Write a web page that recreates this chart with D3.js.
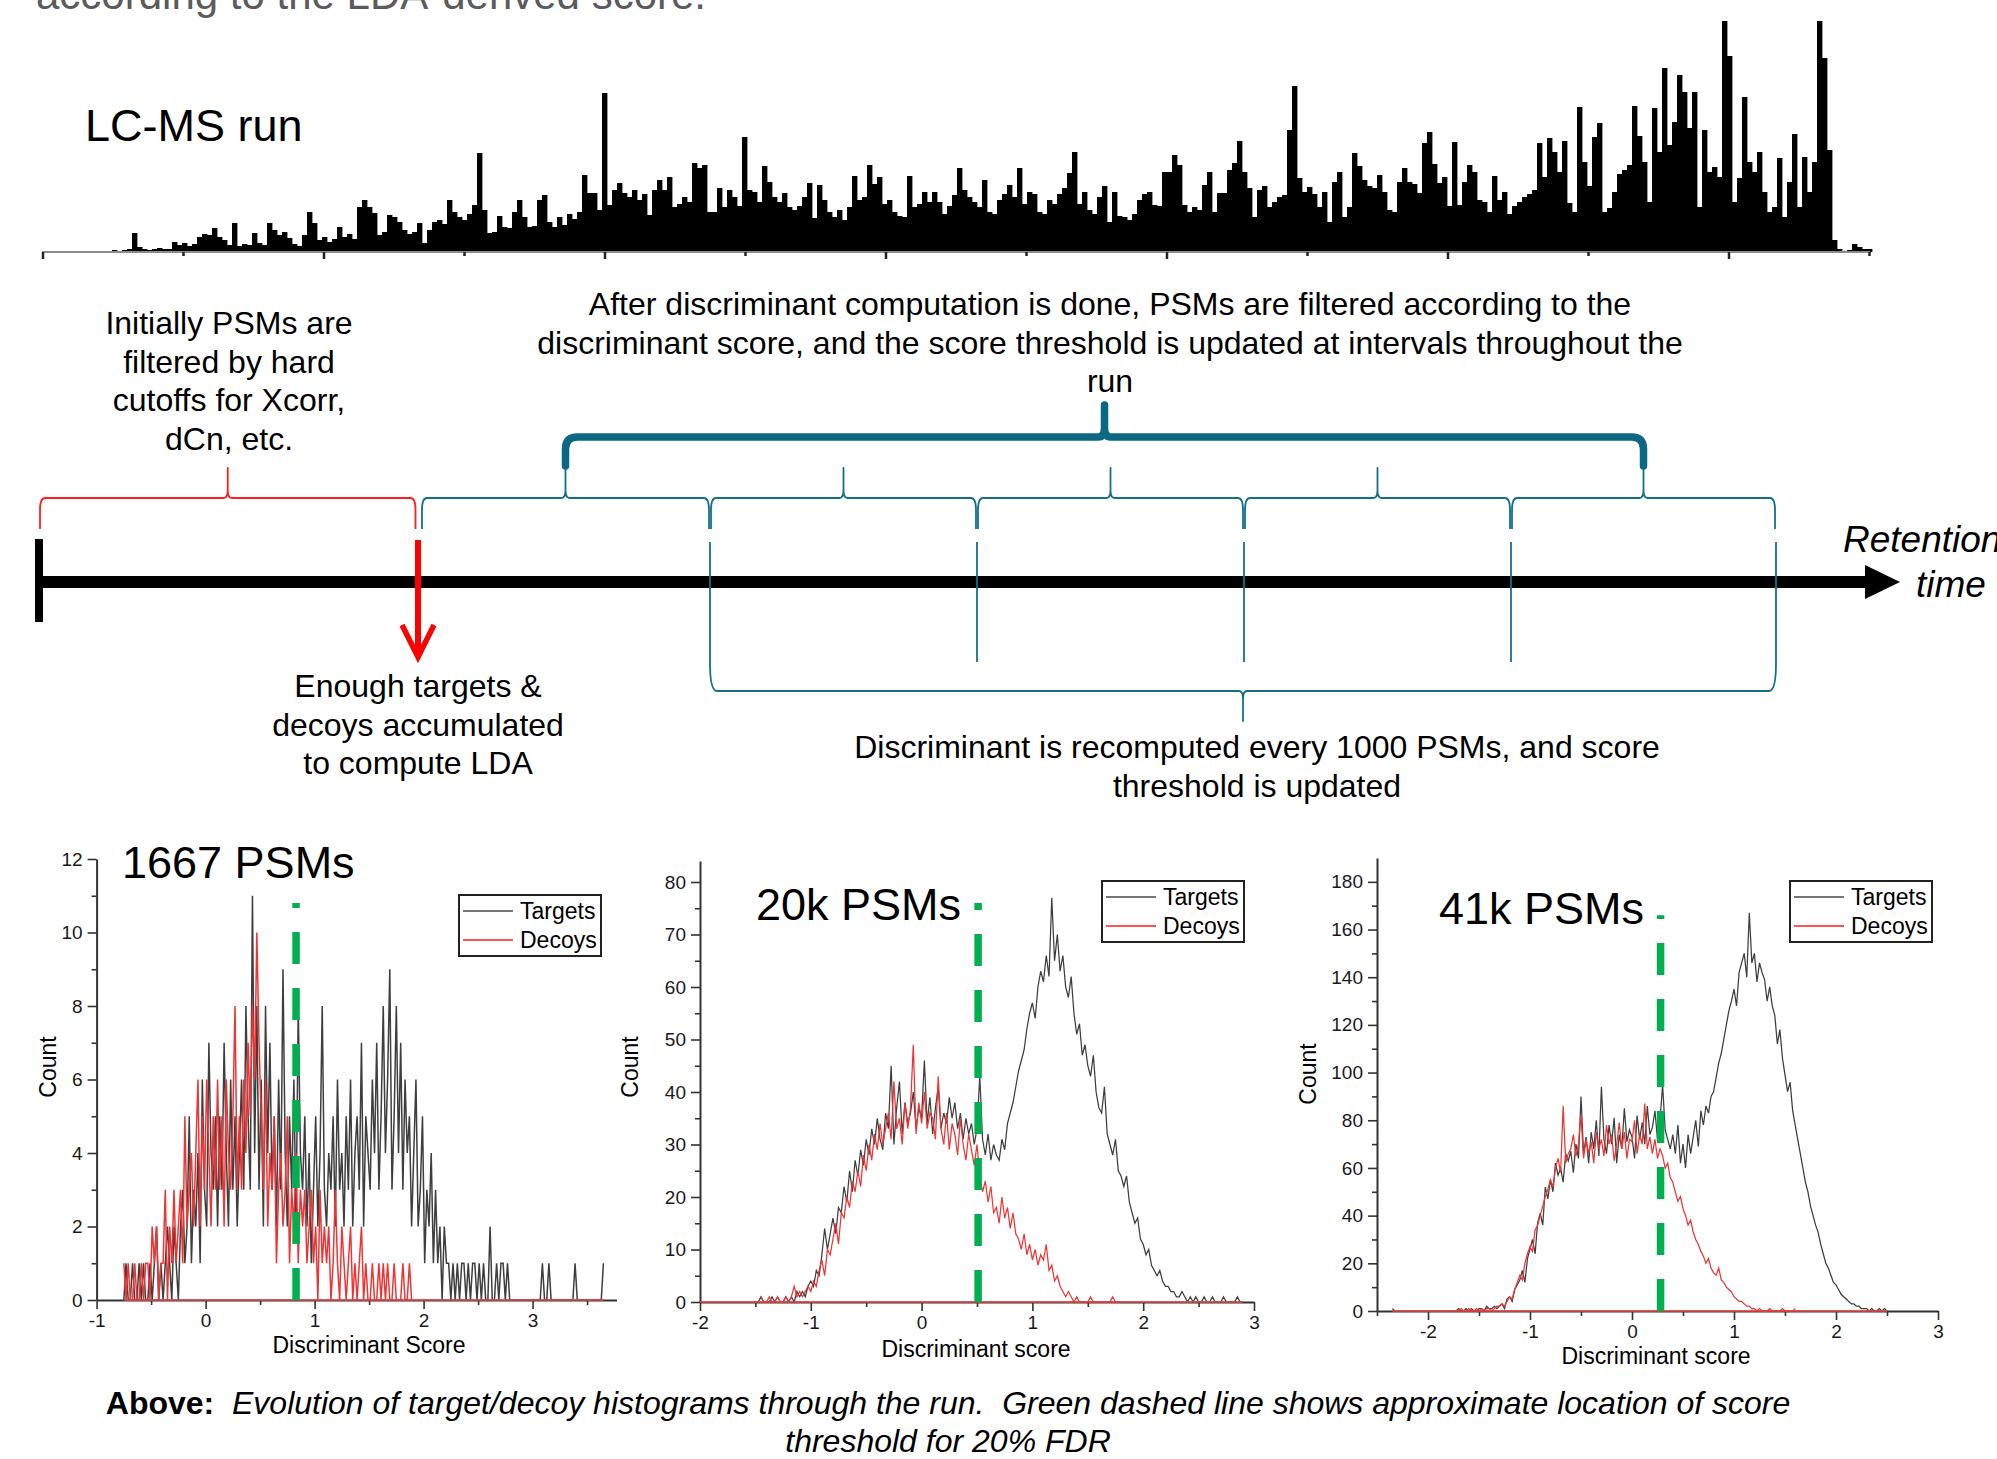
<!DOCTYPE html>
<html>
<head>
<meta charset="utf-8">
<script src="https://cdn.jsdelivr.net/npm/d3@7"></script>
<style>
  body { margin: 0; background: #fff; }
  svg { display: block; font-family: "Liberation Sans", Arial, sans-serif; }
</style>
</head>
<body>
<svg width="1997" height="1459"></svg>
<script>
// ---- LC-MS run: intensity per scan bin ----
var runIntensity = [
  1,1,1,1,1,1,1,1,1,1,1,1,1,1,2,1,2,3,19,5,3,2,3,4,3,3,
  10,7,9,6,8,15,18,17,24,15, 12,7,29,6,8,7,19,9,7,29,
  22,17,20,14,8,6,17,40,29,12, 15,10,13,25,15,18,13,45,52,45,
  39,17,20,37,35,30,22,18,20,29, 9,22,30,32,28,52,40,35,32,38,
  47,99,42,19,20,36,25,24,40,52, 35,25,26,52,57,30,25,35,27,38,
  33,40,77,59,59,42,159,47,62,69, 59,55,62,52,58,37,62,72,
  62,75,45,48,55,50,89,84,87,40, 40,64,45,62,55,46,115,62,60,50,
  86,70,55,50,59,45,42,46,55,69, 34,67,52,40,35,42,32,45,76,52,
  55,87,68,75,48,52,40,36,35,76, 45,48,60,50,60,50,38,46,57,84,
  62,55,50,45,72,40,38,52,58,67, 55,84,48,60,58,40,38,52,48,58,
  64,79,100,48,60,42,38,55,66,30, 60,36,35,32,38,52,58,60,47,46,
  80,80,97,87,47,40,45,42,67,80, 40,59,59,82,89,111,80,64,35,62,
  66,45,50,55,57,122,166,74,60,65, 58,45,60,30,70,80,35,45,99,86,
  72,66,64,77,60,42,40,70,84,70, 68,59,109,120,88,69,75,46,110,47,
  70,87,80,52,50,40,76,52,60,38, 46,50,55,58,62,109,75,114,100,80,
  111,49,40,145,90,66,115,129,40,44, 60,78,82,87,146,116,90,50,144,100,
  184,107,130,177,160,124,160,45,122,80, 85,75,231,196,50,74,155,90,80,100,
  60,40,45,94,35,70,118,45,95,60, 90,231,194,102,12,3,1,2,8,5,
  3,3
];
var runTickCount = 14, runTickStep = 28.1;

// scan bins where the LDA first runs and where it is recomputed
var ldaStartScan = 75.2;
var recomputeScans = [133.6, 187.0, 240.4, 293.8, 346.8];

// ---- histograms: counts per score bin ----
var p1Start = -0.75, p1Step = 0.02;
var p1Targets = [
  0,1,0,0,1,0,0,1,0,1,0,0,1, 0,1,2,0,1,0,1,2,1,0,
  2,1,0,2,3,1,2,5,1,3, 2,4,1,6,3,2,7,4,3,5, 2,5,3,7,4,2,6,3,5,2,
  4,6,3,8,5,3,11,4,8,3, 6,2,8,4,7,3,5,2,6,3, 9,4,2,5,3,6,2,8,4,3,
  5,2,4,1,3,5,2,4,8,3, 2,4,3,5,2,6,3,4,2,5, 3,6,2,4,5,3,7,2,5,4,
  3,6,4,7,3,5,8,4,6,9, 3,5,8,4,7,3,6,4,5,2, 4,6,2,3,5,1,3,2,4,1,
  3,1,2,0,2,1,1,0,1,0, 1,0,1,1,0,1,0,1,1,0, 1,0,1,0,0,2,0,0,1,0,
  1,1,0,1,0,0,0,0,0,0, 0,0,0,0,0,0,0,0,0,1, 0,0,1,0,0,0,0,0,0,0,
  0,0,0,0,1,0,0,0,0,0, 0,0,0,0,0,0,0,1
];
var p1DecoyStart = -0.75;
var p1Decoys = [
  1,0,1,0,0,1,0,0,1,0,1,1,0, 2,1,2,0,1,1,3,0,2,1,
  3,1,2,3,1,5,2,3,4,2, 4,6,2,5,3,6,4,2,5,3, 6,3,5,2,6,4,3,5,8,3,
  5,3,6,4,7,5,8,6,10,7, 5,3,6,2,4,3,5,1,3,4, 2,3,5,1,3,2,4,1,3,2,
  3,1,2,3,1,2,0,3,1,2, 1,2,0,1,3,1,0,2,1,0, 1,2,0,1,0,1,2,0,1,0,
  0,1,0,0,1,0,1,0,1,0, 0,1,0,0,0,1,0,0,1,0
];
var p1ZeroSpan = [-0.75, 3.65];

var p2Start = -1.5, p2Step = 0.025;
var p2Targets = [
  0,0,1,0,0,0,1,0,1,0,0,1,0, 1,0,2,1,2,1,3,4,
  3,6,5,9, 14,10,13,16, 13,18,17,22, 19,25,21,27, 24,29,26,31, 28,33,30,35,
  31,29,36,33, 45,30,37,42, 32,38,34,36, 40,33,37,35, 46,34,39,32,
  37,41,33,36, 34,39,35,38, 33,36,31,35, 32,34,30,33, 43,31,28,32,
  27,30,28,27, 31,29,34,36, 38,41,44,46, 48,52,55,57, 54,60,63,61,
  66,62,77,65, 70,63,66,60, 58,62,55,51, 53,47,49,45, 43,47,40,37,
  36,41,32,30, 28,31,25,24, 22,24,19,17, 15,16,12,11, 9,10,7,6,
  5,6,4,3, 3,2,2,1, 1,2,1,0,
  1,0,1,0,0,1,0,0,1,0,0,0,1,0,0,0,0,1,0,0
];
var p2DecoyStart = -1.45;
var p2Decoys = [
  1,0,0,1,0,0,1,0,0,1, 0,1,3,1, 2,1,2,3, 2,4,3,6, 8,5,10,9,
  12,15,11,17, 16,20,18,23, 21,25,22,28, 25,30,27,32, 29,34,30,33,
  36,31,42,33, 35,30,38,33, 37,49,32,38, 34,40,33,36, 35,31,43,33,
  30,36,29,34, 32,28,35,30, 27,32,29,26, 30,24,21,23, 19,22,17,18,
  15,20,16,18, 14,17,13,12, 10,13,9,11, 8,10,7,9, 8,11,6,7,
  4,5,3,2, 1,2,1,0, 1,0,0,0,0,1,0,0,0,0,0,0,0,1,0,0,0
];
var p2ZeroSpan = [-2, 2.9];

var p3Start = -2.35, p3Step = 0.025;
var p3Targets = [
  1,0,0,0,0,0,0,0,0,0, 0,0,0,0,0,0,0,0,0,0, 0,0,0,0,0,0,1,0,0,1,
  0,1,0,0,1,1,0,2,1,1, 2,1,
  2,3,1,5, 6,4,9,11, 13,17,12,22, 26,30,24,37, 41,36,52,47,
  55,50,62,57, 60,54,66,63, 67,58,70,64, 90,66,73,62, 75,68,80,65,
  94,72,66,78, 70,81,62,74, 68,85,71,76, 73,64,82,72, 79,70,86,74,
  77,84,72,80, 95,76,72,68, 74,66,78,62, 70,60,74,66, 73,80,69,84,
  78,86,83,90, 92,98,104,108, 114,120,126,130, 135,128,142,146,
  150,140,167,146, 150,138,146,142, 139,130,136,128, 124,112,118,106,
  99,92,96,84, 78,72,66,60, 54,50,44,40, 36,33,28,24, 20,18,15,12,
  11,9,7,6, 5,4,3,3, 2,2,1,1, 1,0,1,0,0,1,0,1,0
];
var p3DecoyStart = -1.7;
var p3Decoys = [
  0,1,0,0,1,0,0,1,0,1,0,1,1,0,1,2,
  2,3,2,4, 6,5,9,12, 15,13,20,24, 27,25,34,36, 40,44,48,51,
  55,52,60,64, 58,86,62,66, 68,74,65,70, 82,64,72,66, 71,62,75,68,
  72,65,78,70, 74,63,70,79, 68,75,64,72, 71,80,66,74, 70,87,68,73,
  66,72,64,68, 65,60,62,56, 54,50,46,48, 43,40,36,38, 33,30,28,25,
  23,20,22,18, 16,15,18,13, 12,10,9,8, 6,5,4,4, 3,2,2,1,
  1,0,1,0,0,0,1,0,0,0,0,1,0,0,0,0,1
];
var p3ZeroSpan = [-2.35, 2.5];

var panelTitles = ["1667 PSMs", "20k PSMs", "41k PSMs"];
var xLabels = ["Discriminant Score", "Discriminant score", "Discriminant score"];
var thresholds = [0.83, 0.51, 0.28];
var thresholdTops = [10.8, 76, 166];

var p1XMajor = [-1, 0, 1, 2, 3], p1XMinor = [-0.5, 0.5, 1.5, 2.5, 3.5];
var p1YMajor = [0, 2, 4, 6, 8, 10, 12], p1YMinor = [1, 3, 5, 7, 9, 11];
var p2XMajor = [-2, -1, 0, 1, 2, 3], p2XMinor = [-1.5, -0.5, 0.5, 1.5, 2.5];
var p2YMajor = [0, 10, 20, 30, 40, 50, 60, 70, 80], p2YMinor = [5, 15, 25, 35, 45, 55, 65, 75];
var p3XMajor = [-2, -1, 0, 1, 2, 3], p3XMinor = [-2.5, -1.5, -0.5, 0.5, 1.5, 2.5];
var p3YMajor = [0, 20, 40, 60, 80, 100, 120, 140, 160, 180], p3YMinor = [10, 30, 50, 70, 90, 110, 130, 150, 170];

var svg = d3.select("svg");
var TEAL = "#13708b", RED = "#ff1f1f";

// gray sentence cut off at the top
svg.append("text")
    .attr("x", 36).attr("y", 9)
    .attr("font-size", 42).attr("fill", "#5b5b5b")
    .text("according to the LDA-derived score.");

// ---- LC-MS run trace ----
var xRun = d3.scaleLinear().domain([0, runIntensity.length]).range([42, 1872]),
    yRun = d3.scaleLinear().domain([0, 240]).range([252, 12]);

svg.append("g").selectAll("rect")
    .data(runIntensity)
    .enter().append("rect")
    .attr("x", function(d, i) { return xRun(i); })
    .attr("y", function(d) { return yRun(d); })
    .attr("width", xRun(1) - xRun(0) + 0.4)
    .attr("height", function(d) { return yRun(0) - yRun(d); })
    .attr("fill", "#000");

svg.append("line")
    .attr("x1", xRun(0)).attr("x2", xRun(runIntensity.length - 0.4))
    .attr("y1", yRun(0)).attr("y2", yRun(0))
    .attr("stroke", "#8c8c8c").attr("stroke-width", 2);

svg.append("g").selectAll("line")
    .data(d3.range(runTickCount))
    .enter().append("line")
    .attr("x1", function(i) { return xRun(i * runTickStep + 0.2); })
    .attr("x2", function(i) { return xRun(i * runTickStep + 0.2); })
    .attr("y1", yRun(0))
    .attr("y2", function(i) { return yRun(0) + (i % 2 ? 4 : 7); })
    .attr("stroke", "#222").attr("stroke-width", 2.5);

svg.append("text")
    .attr("x", 85).attr("y", 141)
    .attr("font-size", 45)
    .text("LC-MS run");

// ---- timeline diagram ----
var tlY = 582;
svg.append("rect")
    .attr("x", xRun(-0.6)).attr("y", tlY - 6)
    .attr("width", xRun(364.8) - xRun(-0.6)).attr("height", 12)
    .attr("fill", "#000");
svg.append("path")
    .attr("d", "M" + xRun(364.6) + "," + (tlY - 17) + "L" + xRun(371.6) + "," + tlY + "L" + xRun(364.6) + "," + (tlY + 17) + "Z")
    .attr("fill", "#000");
svg.append("rect")
    .attr("x", xRun(-0.6) - 4).attr("y", 539)
    .attr("width", 8).attr("height", 83)
    .attr("fill", "#000");

// curly brace: horizontal at yl, ends bend toward ye, tip points to yt
function brace(x0, x1, yl, ye, yt, er, tr) {
    var cx = (x0 + x1) / 2,
        se = ye > yl ? 1 : -1,
        st = yt > yl ? 1 : -1;
    return "M" + x0 + "," + ye +
        "L" + x0 + "," + (yl + se * er[1]) +
        "Q" + x0 + "," + yl + " " + (x0 + er[0]) + "," + yl +
        "L" + (cx - tr[0]) + "," + yl +
        "Q" + cx + "," + yl + " " + cx + "," + (yl + st * tr[1]) +
        "L" + cx + "," + yt +
        "L" + cx + "," + (yl + st * tr[1]) +
        "Q" + cx + "," + yl + " " + (cx + tr[0]) + "," + yl +
        "L" + (x1 - er[0]) + "," + yl +
        "Q" + x1 + "," + yl + " " + x1 + "," + (yl + se * er[1]) +
        "L" + x1 + "," + ye;
}

var braces = svg.append("g").attr("fill", "none").attr("stroke-linejoin", "round");

braces.append("path")
    .attr("d", brace(xRun(-0.4), xRun(ldaStartScan - 0.5), 498, 529, 468, [5, 12], [4, 8]))
    .attr("stroke", RED).attr("stroke-width", 1.8);

var segEdges = [ldaStartScan + 0.6].concat(recomputeScans);
d3.range(recomputeScans.length).forEach(function(i) {
    braces.append("path")
        .attr("d", brace(xRun(segEdges[i] + 0.2), xRun(segEdges[i + 1] - 0.2), 498, 529, 468, [5, 12], [4, 8]))
        .attr("stroke", TEAL).attr("stroke-width", 1.8);
});

braces.append("path")
    .attr("d", brace(xRun((segEdges[0] + segEdges[1]) / 2), xRun((segEdges[4] + segEdges[5]) / 2), 437, 466, 405, [12, 12], [6, 10]))
    .attr("stroke", "#0a6882").attr("stroke-width", 7.5).attr("stroke-linecap", "round");

braces.append("path")
    .attr("d", brace(xRun(recomputeScans[0]), xRun(recomputeScans[recomputeScans.length - 1]), 691, 542, 721, [7, 28], [4, 8]))
    .attr("stroke", TEAL).attr("stroke-width", 1.8);

recomputeScans.slice(1, -1).forEach(function(s) {
    braces.append("line")
        .attr("x1", xRun(s)).attr("x2", xRun(s))
        .attr("y1", 542).attr("y2", 662)
        .attr("stroke", TEAL).attr("stroke-width", 1.8);
});

// red arrow where the LDA is first computed
var lx = xRun(ldaStartScan);
svg.append("line")
    .attr("x1", lx).attr("x2", lx).attr("y1", 540).attr("y2", 654)
    .attr("stroke", "#ff0000").attr("stroke-width", 6);
svg.append("path")
    .attr("d", "M" + (lx - 16) + ",625L" + lx + ",657L" + (lx + 16) + ",625")
    .attr("fill", "none").attr("stroke", "#ff0000").attr("stroke-width", 5.5);

function textBlock(lines, x, y0, dy, size, anchor, style) {
    var t = svg.append("text")
        .attr("font-size", size)
        .attr("text-anchor", anchor || "middle")
        .attr("font-style", style || null);
    lines.forEach(function(s, i) {
        t.append("tspan").attr("x", x).attr("y", y0 + i * dy).text(s);
    });
}

textBlock(["Initially PSMs are", "filtered by hard", "cutoffs for Xcorr,", "dCn, etc."], 229, 334, 38.5, 32);
textBlock(["After discriminant computation is done, PSMs are filtered according to the",
           "discriminant score, and the score threshold is updated at intervals throughout the",
           "run"], 1110, 315, 38.5, 32);
textBlock(["Enough targets &", "decoys accumulated", "to compute LDA"], 418, 697, 38.5, 32);
textBlock(["Discriminant is recomputed every 1000 PSMs, and score", "threshold is updated"], 1257, 758, 39, 32);
svg.append("text").attr("x", 1843).attr("y", 552).attr("font-size", 37).attr("font-style", "italic").text("Retention");
svg.append("text").attr("x", 1916).attr("y", 597).attr("font-size", 37).attr("font-style", "italic").text("time");

// ---- histogram panels ----
var panels = [
    { title: panelTitles[0], xlab: xLabels[0], th: thresholds[0], thTop: thresholdTops[0],
      targets: p1Targets, tStart: p1Start, decoys: p1Decoys, dStart: p1DecoyStart, step: p1Step, zero: p1ZeroSpan,
      xMajor: p1XMajor, xMinor: p1XMinor, yMajor: p1YMajor, yMinor: p1YMinor, lw: 1.5,
      xDomain: [-1, 3.77], yDomain: [0, 12], xRange: [96.6, 616.5], yRange: [1300, 859],
      titlePos: [122, 878], legendPos: [459, 895], xlabPos: [369, 1353], ylabPos: [48, 1067] },
    { title: panelTitles[1], xlab: xLabels[1], th: thresholds[1], thTop: thresholdTops[1],
      targets: p2Targets, tStart: p2Start, decoys: p2Decoys, dStart: p2DecoyStart, step: p2Step, zero: p2ZeroSpan,
      xMajor: p2XMajor, xMinor: p2XMinor, yMajor: p2YMajor, yMinor: p2YMinor, lw: 1.25,
      xDomain: [-2, 3], yDomain: [0, 84], xRange: [700, 1254], yRange: [1302, 861],
      titlePos: [756, 920], legendPos: [1102, 881], xlabPos: [976, 1357], ylabPos: [630, 1067] },
    { title: panelTitles[2], xlab: xLabels[2], th: thresholds[2], thTop: thresholdTops[2],
      targets: p3Targets, tStart: p3Start, decoys: p3Decoys, dStart: p3DecoyStart, step: p3Step, zero: p3ZeroSpan,
      xMajor: p3XMajor, xMinor: p3XMinor, yMajor: p3YMajor, yMinor: p3YMinor, lw: 1.25,
      xDomain: [-2.5, 3], yDomain: [0, 190], xRange: [1377, 1938], yRange: [1311, 858],
      titlePos: [1439, 924], legendPos: [1790, 881], xlabPos: [1656, 1364], ylabPos: [1308, 1074] }
];

function styleAxis(sel) {
    sel.attr("font-family", null).attr("font-size", 19);
    sel.selectAll(".domain").attr("stroke", "#333").attr("stroke-width", 2);
    sel.selectAll(".tick line").attr("stroke", "#333").attr("stroke-width", 1.6);
    sel.selectAll(".tick text").attr("fill", "#1a1a1a");
}

panels.forEach(function(p) {
    var x = d3.scaleLinear().domain(p.xDomain).range(p.xRange),
        y = d3.scaleLinear().domain(p.yDomain).range(p.yRange),
        g = svg.append("g"),
        fmt = function(d) { return String(d); };

    g.append("g").attr("transform", "translate(0," + p.yRange[0] + ")")
        .call(d3.axisBottom(x).tickValues(p.xMinor).tickSize(5).tickSizeOuter(0).tickFormat(""))
        .call(function(s) { s.select(".domain").remove(); })
        .call(styleAxis);
    g.append("g").attr("transform", "translate(0," + p.yRange[0] + ")")
        .call(d3.axisBottom(x).tickValues(p.xMajor).tickSize(9).tickSizeOuter(0).tickPadding(5).tickFormat(fmt))
        .call(styleAxis);
    g.append("g").attr("transform", "translate(" + p.xRange[0] + ",0)")
        .call(d3.axisLeft(y).tickValues(p.yMinor).tickSize(5).tickSizeOuter(0).tickFormat(""))
        .call(function(s) { s.select(".domain").remove(); })
        .call(styleAxis);
    g.append("g").attr("transform", "translate(" + p.xRange[0] + ",0)")
        .call(d3.axisLeft(y).tickValues(p.yMajor).tickSize(9).tickSizeOuter(0).tickPadding(5).tickFormat(fmt))
        .call(styleAxis);

    var line = function(start) {
        return d3.line()
            .x(function(d, i) { return x(start + i * p.step); })
            .y(function(d) { return y(d); });
    };

    g.append("path").datum(p.targets)
        .attr("d", line(p.tStart))
        .attr("fill", "none").attr("stroke", "#3e3e3e").attr("stroke-width", p.lw);
    g.append("line")
        .attr("x1", x(p.zero[0])).attr("x2", x(p.zero[1]))
        .attr("y1", y(0)).attr("y2", y(0))
        .attr("stroke", "#f04545").attr("stroke-width", 1.3);
    g.append("path").datum(p.decoys)
        .attr("d", line(p.dStart))
        .attr("fill", "none").attr("stroke", "#ee3535").attr("stroke-width", p.lw);

    // threshold for 20% FDR, dashes start at the axis
    g.append("line")
        .attr("x1", x(p.th)).attr("x2", x(p.th))
        .attr("y1", y(0)).attr("y2", y(p.thTop))
        .attr("stroke", "#00b050").attr("stroke-width", 7.5)
        .attr("stroke-dasharray", "32,24");

    g.append("text")
        .attr("x", p.titlePos[0]).attr("y", p.titlePos[1])
        .attr("font-size", 45)
        .text(p.title);

    var lg = g.append("g").attr("transform", "translate(" + p.legendPos[0] + "," + p.legendPos[1] + ")");
    lg.append("rect").attr("width", 142).attr("height", 61)
        .attr("fill", "#fff").attr("stroke", "#222").attr("stroke-width", 2);
    [["Targets", "#777"], ["Decoys", "#ff5555"]].forEach(function(it, i) {
        lg.append("line").attr("x1", 4).attr("x2", 54)
            .attr("y1", 16 + i * 29).attr("y2", 16 + i * 29)
            .attr("stroke", it[1]).attr("stroke-width", 2);
        lg.append("text").attr("x", 61).attr("y", 24 + i * 29)
            .attr("font-size", 23).text(it[0]);
    });

    g.append("text")
        .attr("x", p.xlabPos[0]).attr("y", p.xlabPos[1])
        .attr("text-anchor", "middle").attr("font-size", 23)
        .text(p.xlab);
    g.append("text")
        .attr("transform", "translate(" + p.ylabPos[0] + "," + p.ylabPos[1] + ") rotate(-90)")
        .attr("text-anchor", "middle").attr("dy", "0.35em").attr("font-size", 23)
        .text("Count");
});

// caption
var cap = svg.append("text")
    .attr("x", 948).attr("y", 1414)
    .attr("text-anchor", "middle").attr("font-size", 32)
    .style("white-space", "pre");
cap.append("tspan").attr("font-weight", "bold").text("Above:");
cap.append("tspan").attr("font-style", "italic")
    .text("  Evolution of target/decoy histograms through the run.  Green dashed line shows approximate location of score");
svg.append("text")
    .attr("x", 948).attr("y", 1452)
    .attr("text-anchor", "middle").attr("font-size", 32).attr("font-style", "italic")
    .text("threshold for 20% FDR");
</script>
</body>
</html>
